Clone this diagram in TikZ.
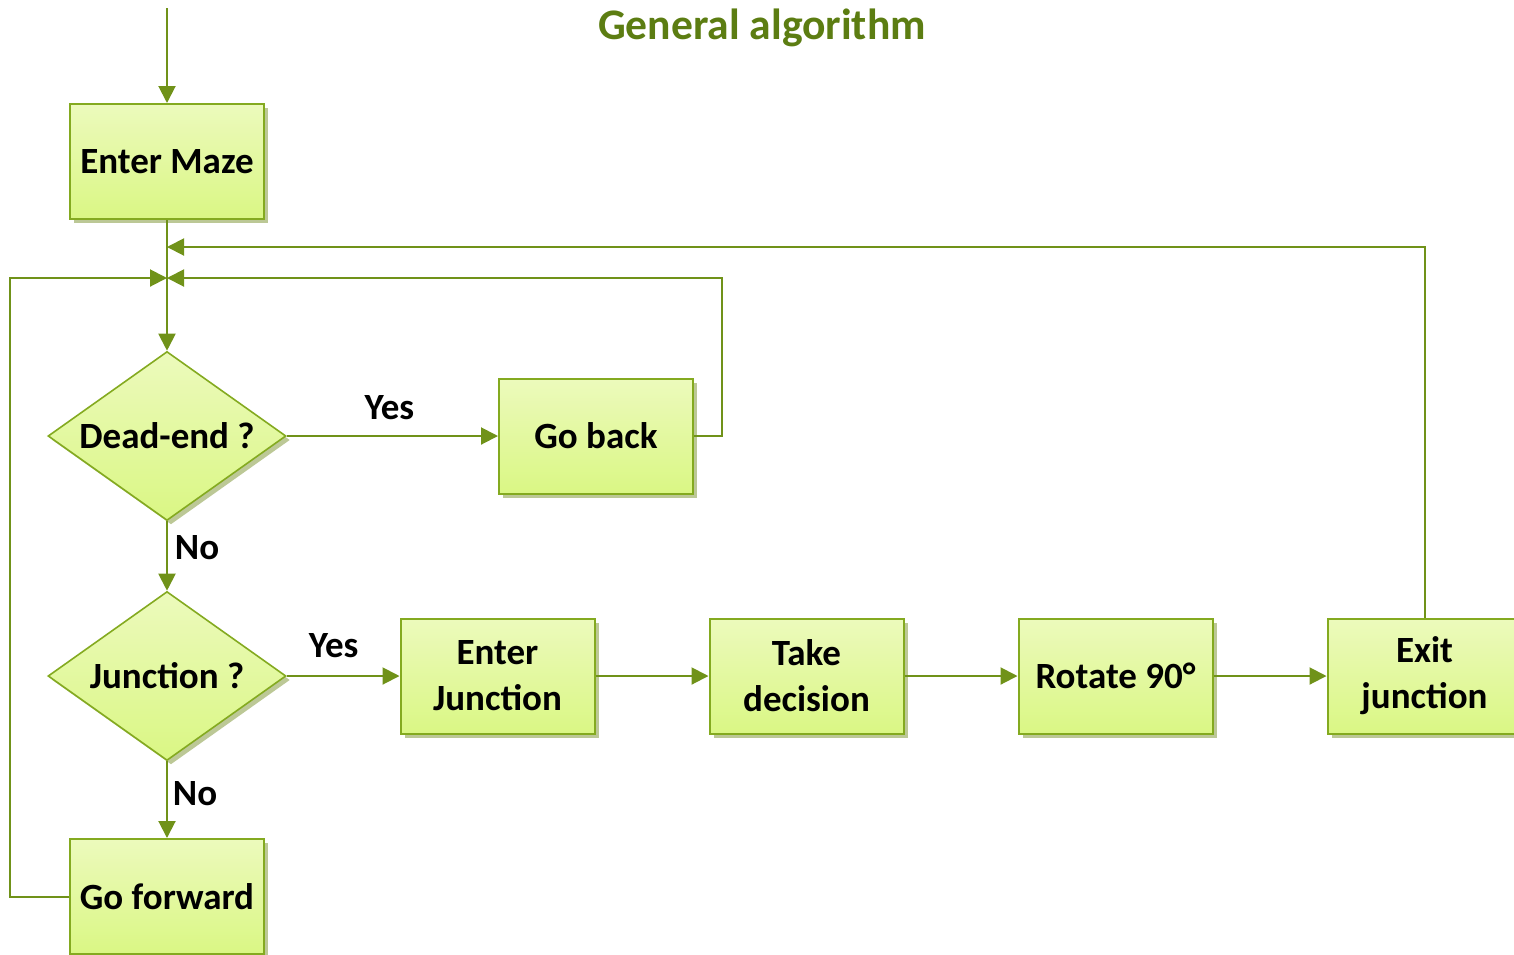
\documentclass[tikz,border=0pt]{standalone}
\usepackage{fontspec}
\setmainfont{Carlito}
\usetikzlibrary{arrows.meta,shapes.geometric,shadows,calc}
\definecolor{linegreen}{RGB}{112,146,25}
\definecolor{bordergreen}{RGB}{132,170,32}
\definecolor{filltop}{RGB}{236,250,188}
\definecolor{fillbot}{RGB}{218,247,132}
\definecolor{shadowgreen}{RGB}{188,200,150}
\definecolor{titlegreen}{RGB}{92,125,18}
\tikzset{
  boxstyle/.style={rectangle, draw=bordergreen, line width=1pt, top color=filltop, bottom color=fillbot,
    drop shadow={shadow xshift=2pt, shadow yshift=-2pt, fill=shadowgreen, opacity=1},
    minimum width=97pt, minimum height=57.5pt, inner sep=0pt, align=center,
    font=\fontsize{18.5}{23}\selectfont\bfseries},
  decision/.style={diamond, draw=bordergreen, line width=0.8pt, top color=filltop, bottom color=fillbot,
    drop shadow={shadow xshift=2pt, shadow yshift=-2pt, fill=shadowgreen, opacity=1},
    minimum width=119pt, minimum height=84.5pt, inner sep=0pt},
  inlabel/.style={font=\fontsize{18.5}{23}\selectfont\bfseries},
  conn/.style={draw=linegreen, line width=1pt, -{Triangle[length=8.5pt,width=8.5pt]}},
  edgelabel/.style={font=\fontsize{18.5}{23}\selectfont\bfseries, inner sep=0pt, anchor=center}
}
\begin{document}
\begin{tikzpicture}[x=0.5pt,y=-0.5pt]
\useasboundingbox (0,0) rectangle (1514,954);
\clip (0,0) rectangle (1514,954);
\node[font=\fontsize{21.8}{26}\selectfont\bfseries, text=titlegreen] (title) at (762,28) {General algorithm};

\coordinate (start) at (167,8);
\coordinate (j1) at (167,247);
\coordinate (j2) at (167,278);

\node[boxstyle] (em) at (167,161.5) {Enter Maze};
\node[decision, label={[inlabel]center:Dead-end ?}] (dead) at (167,436) {};
\node[boxstyle] (gb) at (596,436) {Go back};
\node[decision, label={[inlabel]center:Junction ?}] (junc) at (167,676) {};
\node[boxstyle] (ej) at (497.5,676) {Enter\\Junction};
\node[boxstyle] (td) at (806.5,676) {Take\\decision};
\node[boxstyle] (rot) at (1115.5,676) {Rotate 90°};
\node[boxstyle] (ex) at (1424.5,676) {Exit\\junction};
\node[boxstyle] (gf) at (167,896.5) {Go forward};

\draw[conn] (start) -- (em.north);
\draw[conn] (em.south) -- (dead.north);
\draw[conn] (ex.north) |- (j1);
\draw[conn] (gb.east) -- ++(28,0) |- (j2);
\draw[conn] (gf.west) -- ++(-59,0) |- (j2);
\draw[conn] (dead.east) -- node[edgelabel, xshift=-1.5pt, yshift=14pt] (yes1) {Yes} (gb.west);
\draw[conn] (dead.south) -- node[edgelabel, xshift=15pt, yshift=4.25pt] (no1) {No} (junc.north);
\draw[conn] (junc.east) -- node[edgelabel, xshift=-4.75pt, yshift=15pt] (yes2) {Yes} (ej.west);
\draw[conn] (junc.south) -- node[edgelabel, xshift=14pt, yshift=3pt] (no2) {No} (gf.north);
\draw[conn] (ej.east) -- (td.west);
\draw[conn] (td.east) -- (rot.west);
\draw[conn] (rot.east) -- (ex.west);
\end{tikzpicture}
\end{document}
